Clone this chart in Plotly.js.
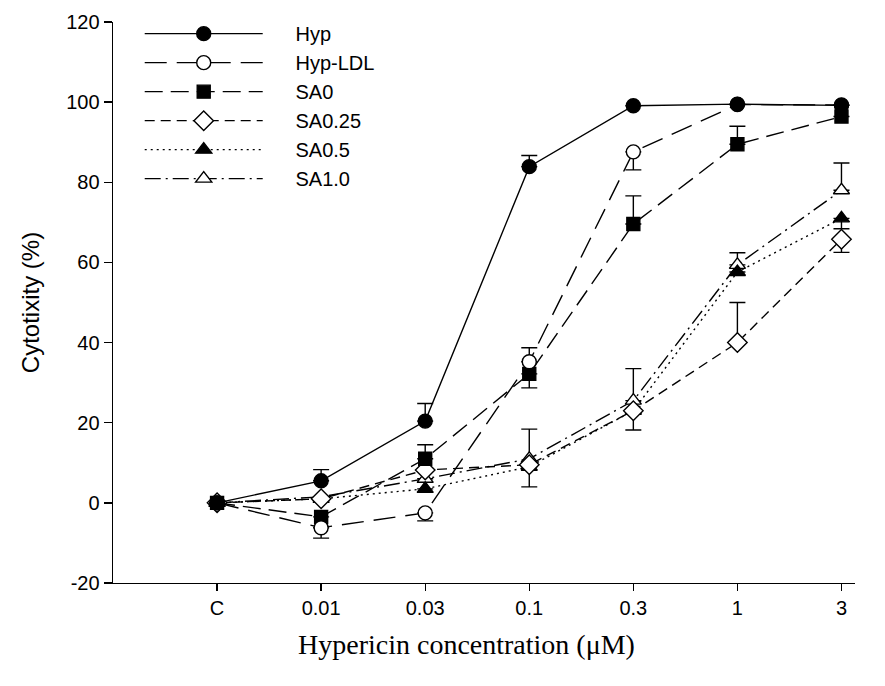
<!DOCTYPE html>
<html>
<head>
<meta charset="utf-8">
<script src="https://cdn.plot.ly/plotly-3.0.1.min.js"></script>
<style>html,body{margin:0;padding:0;background:#fff;}#chart{width:885px;height:686px;}</style>
</head>
<body>
<div id="chart"></div>
<script>
const categories = ["C", "0.01", "0.03", "0.1", "0.3", "1", "3"];
const yTickVals = [-20, 0, 20, 40, 60, 80, 100, 120];
const yTickText = ["-20", "0", "20", "40", "60", "80", "100", "120"];

const hyp        = [0, 5.5, 20.4, 83.9, 99.1, 99.5, 99.2];
const hypErrUp   = [0, 2.8, 4.4, 2.8, 0, 0, 0];
const hypErrDn   = [0, 0, 0, 0, 0, 0, 0];

const hypLdl      = [0, -6.2, -2.5, 35.2, 87.6, 99.4, 99.3];
const hypLdlErrUp = [0, 0, 0, 3.5, 0, 0, 0];
const hypLdlErrDn = [0, 2.6, 2.0, 0, 4.5, 0, 0];

const sa0      = [0, -3.5, 11.0, 32.2, 69.6, 89.5, 96.4];
const sa0ErrUp = [0, 0, 3.5, 0, 7.0, 4.5, 0];
const sa0ErrDn = [0, 0, 0, 3.5, 0, 0, 0];

const sa025      = [0, 1.0, 8.2, 9.5, 23.0, 40.0, 65.8];
const sa025ErrUp = [0, 0, 0, 0, 0, 10.0, 0];
const sa025ErrDn = [0, 0, 0, 0, 4.8, 0, 3.3];

const sa05      = [0, 1.0, 3.5, 9.0, 23.0, 57.6, 71.0];
const sa05ErrUp = [0, 0, 0, 0, 0, 0, 0];
const sa05ErrDn = [0, 0, 0, 0, 0, 0, 2.6];

const sa10      = [0, 1.5, 6.0, 11.0, 25.5, 59.4, 78.0];
const sa10ErrUp = [0, 0, 0, 7.4, 8.0, 3.0, 6.8];
const sa10ErrDn = [0, 0, 0, 7.0, 0, 0, 0];

const seriesNames = ["Hyp", "Hyp-LDL", "SA0", "SA0.25", "SA0.5", "SA1.0"];

const pad = "\u00a0\u00a0\u00a0\u00a0\u00a0";

function tr(name, y, up, dn, symbol, filled, dash, size) {
  return {
    type: "scatter", mode: "lines+markers", name: pad + name,
    x: categories, y: y,
    line: {color: "#000", width: 1.4, dash: dash},
    marker: {symbol: symbol, size: size, color: filled ? "#000" : "#fff",
             line: {color: "#000", width: 1.4}},
    error_y: {type: "data", symmetric: false, array: up, arrayminus: dn,
              color: "#000", thickness: 1.4, width: 8}
  };
}

const data = [
  tr(seriesNames[5], sa10, sa10ErrUp, sa10ErrDn, "triangle-up", false, "16px,5px,2px,5px", 14),
  tr(seriesNames[4], sa05, sa05ErrUp, sa05ErrDn, "triangle-up", true, "2px,4px", 14),
  tr(seriesNames[3], sa025, sa025ErrUp, sa025ErrDn, "diamond", false, "10px,6px", 15),
  tr(seriesNames[2], sa0, sa0ErrUp, sa0ErrDn, "square", true, "18px,8px", 13),
  tr(seriesNames[1], hypLdl, hypLdlErrUp, hypLdlErrDn, "circle", false, "22px,10px", 14),
  tr(seriesNames[0], hyp, hypErrUp, hypErrDn, "circle", true, "solid", 14)
];

const layout = {
  width: 885, height: 686,
  margin: {l: 113, r: 30, t: 22, b: 103},
  paper_bgcolor: "#fff", plot_bgcolor: "#fff",
  font: {family: "Liberation Sans, Arial, sans-serif", size: 20, color: "#000"},
  showlegend: true,
  legend: {x: 0.036, y: 1.014, xanchor: "left", yanchor: "top", traceorder: "reversed",
           bgcolor: "rgba(0,0,0,0)", font: {size: 20}, itemwidth: 118, tracegroupgap: 0},
  xaxis: {
    type: "category", range: [-1, 6.13],
    showgrid: false, zeroline: false, showline: true, linecolor: "#000", linewidth: 1.4,
    ticks: "outside", ticklen: 7, tickwidth: 1.4, tickcolor: "#000",
    tickfont: {size: 20}
  },
  yaxis: {
    range: [-20, 120], tickvals: yTickVals, ticktext: yTickText,
    showgrid: false, zeroline: false, showline: true, linecolor: "#000", linewidth: 1.4,
    ticks: "outside", ticklen: 8, tickwidth: 1.4, tickcolor: "#000",
    tickfont: {size: 20},
    title: {text: "Cytotixity (%)", font: {size: 24}, standoff: 20}
  },
  annotations: [{
    text: "Hypericin concentration (μM)", xref: "paper", yref: "paper",
    x: 0.476, y: -0.11, xanchor: "center", yanchor: "middle", showarrow: false,
    font: {family: "Liberation Serif, Times New Roman, serif", size: 28, color: "#000"}
  }]
};

Plotly.newPlot("chart", data, layout, {displayModeBar: false, staticPlot: true});
</script>
</body>
</html>
